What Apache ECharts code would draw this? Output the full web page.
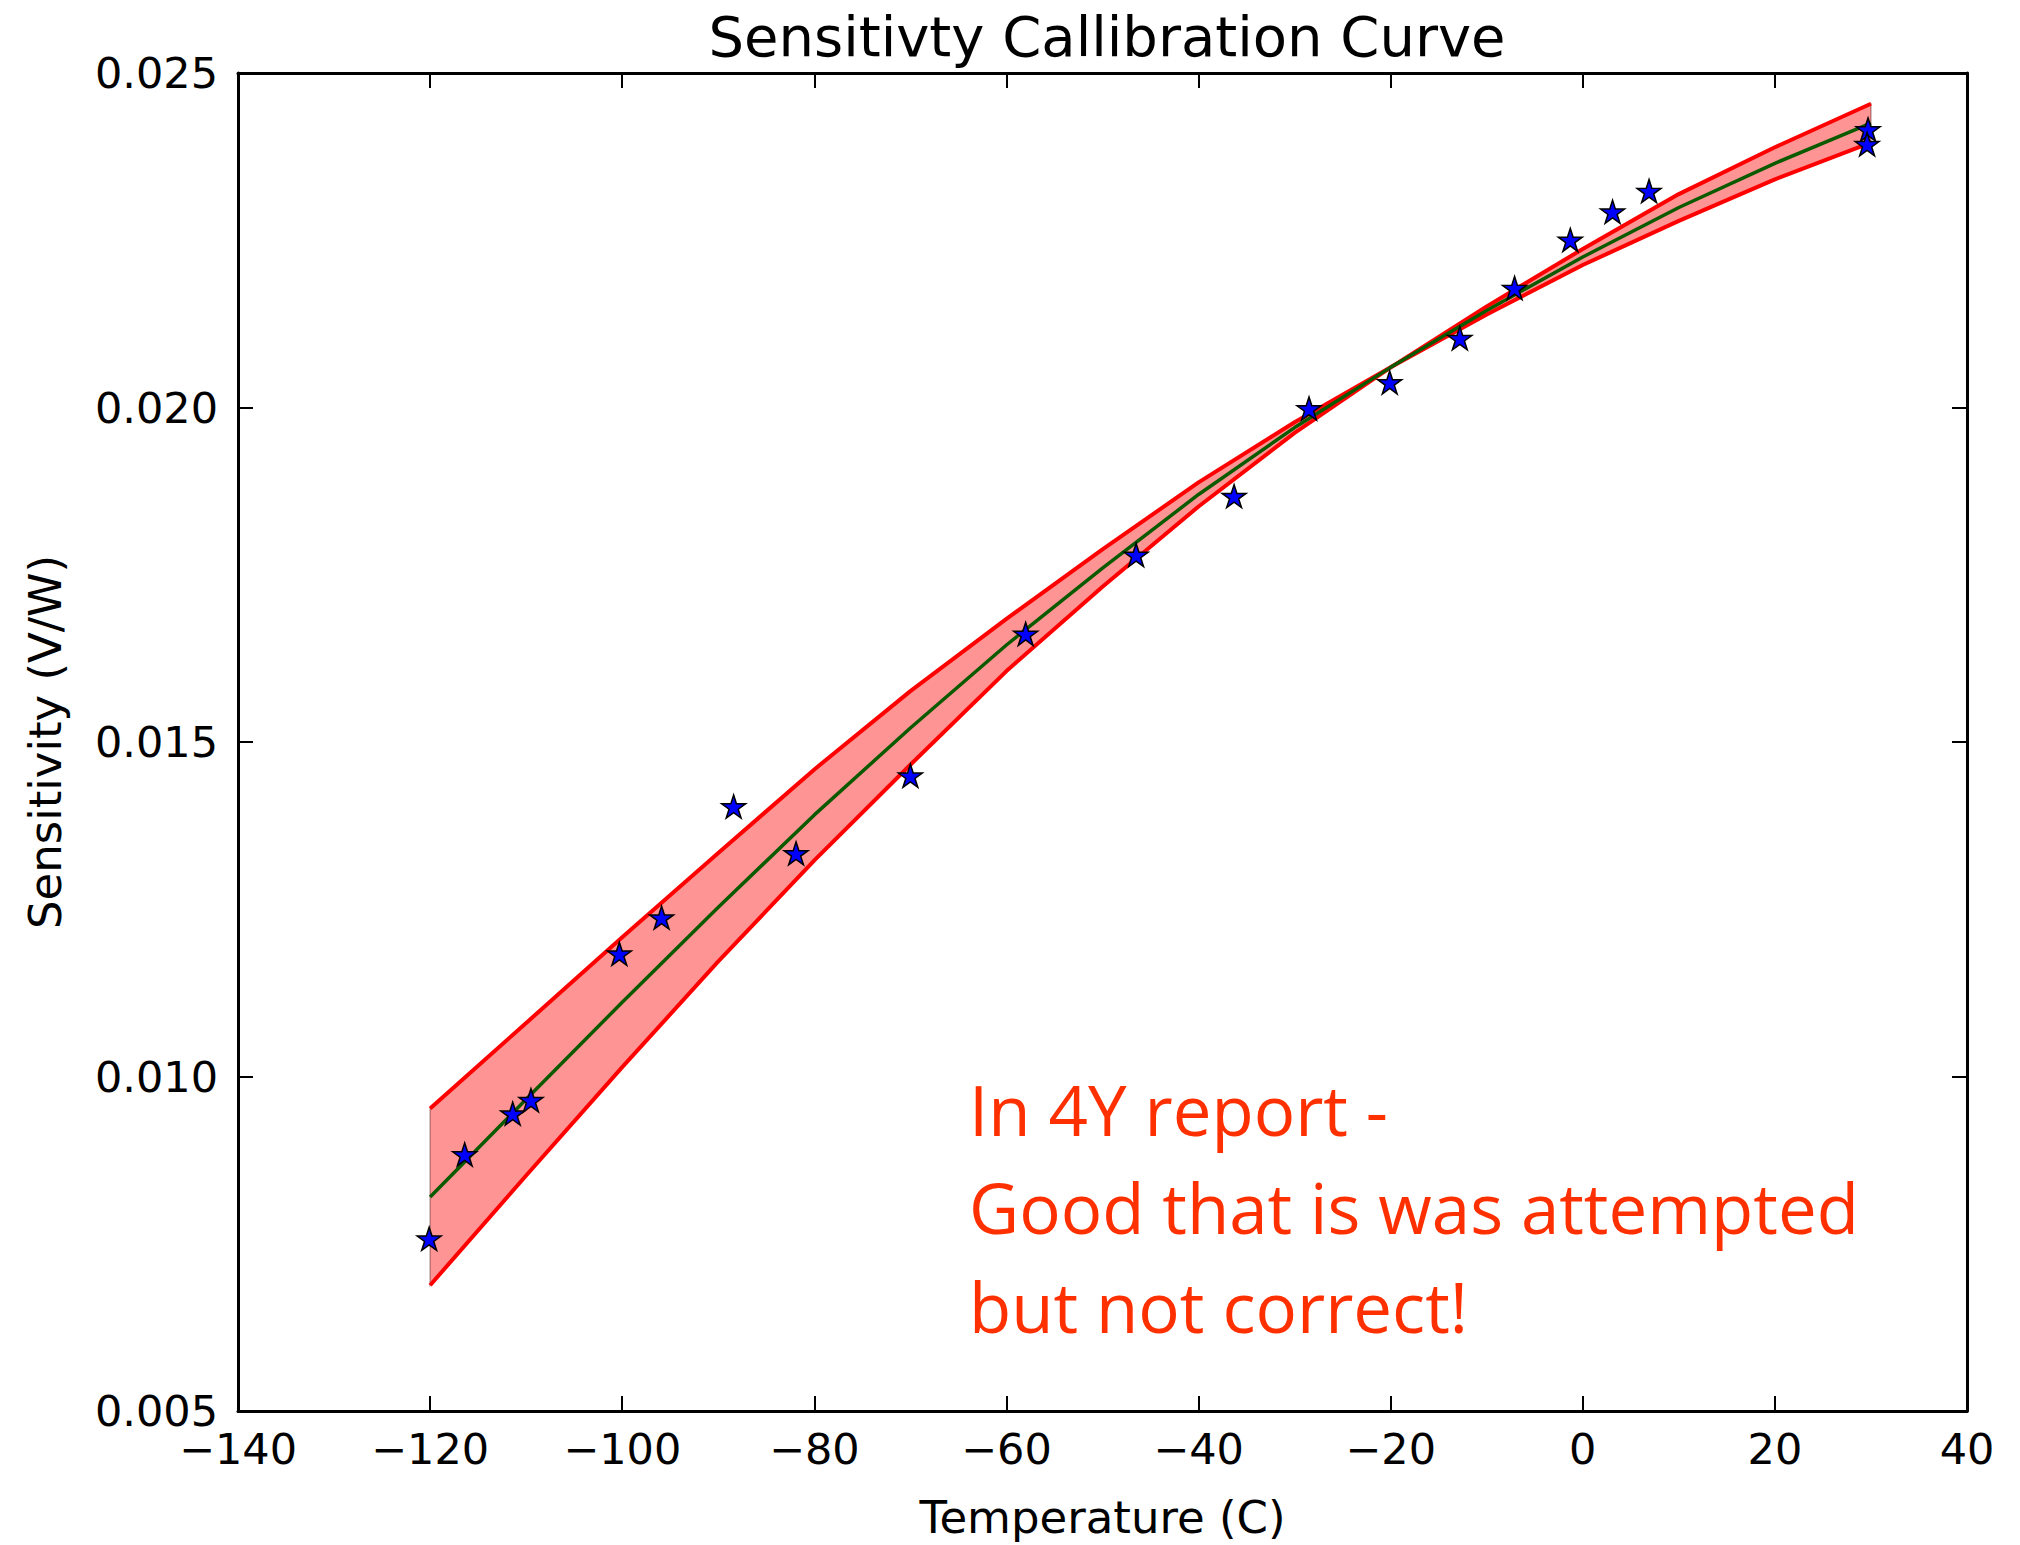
<!DOCTYPE html>
<html>
<head>
<meta charset="utf-8">
<script src="https://cdn.jsdelivr.net/npm/echarts@6/dist/echarts.min.js"></script>
<style>
html,body{margin:0;padding:0;background:#fff;}
#chart{width:2020px;height:1545px;}
</style>
</head>
<body>
<div id="chart"></div>
<script>
// ---- data ----
const fitTemps = [-120, -110, -100, -90, -80, -70, -60, -50, -40, -30, -20, -10, 0, 10, 20, 30];
const fitSens  = [0.00820, 0.00966, 0.01111, 0.01253, 0.01391, 0.01521, 0.01645, 0.01760, 0.01870, 0.01970, 0.02060, 0.02145, 0.02225, 0.02299, 0.02365, 0.02425];
const bandHigh = [0.00952, 0.01080, 0.01208, 0.01334, 0.01459, 0.01576, 0.01684, 0.01788, 0.01888, 0.01978, 0.02060, 0.02151, 0.02237, 0.02319, 0.02389, 0.02454];
const bandLow  = [0.00688, 0.00852, 0.01014, 0.01172, 0.01323, 0.01466, 0.01606, 0.01732, 0.01852, 0.01962, 0.02060, 0.02139, 0.02213, 0.02279, 0.02341, 0.02396];

const measTemps = [-120.1, -116.4, -111.4, -109.5, -100.3, -95.9, -88.4, -81.9, -70.0, -58.0, -46.5, -36.3, -28.5, -20.1, -12.8, -7.1, -1.3, 3.1, 6.9, 29.7, 29.6];
const measSens  = [0.00756, 0.00882, 0.00943, 0.00963, 0.01182, 0.01236, 0.01402, 0.01332, 0.01448, 0.01660, 0.01778, 0.01866, 0.01997, 0.02036, 0.02102, 0.02177, 0.02249, 0.02291, 0.02322, 0.02414, 0.02392];

const xTickLabels = ['\u2212140', '\u2212120', '\u2212100', '\u221280', '\u221260', '\u221240', '\u221220', '0', '20', '40'];
const yTickLabels = ['0.005', '0.010', '0.015', '0.020', '0.025'];

const titleText = 'Sensitivty Callibration Curve';
const xName = 'Temperature (C)';
const yName = 'Sensitivity (V/W)';
const noteLines = ['In 4Y report -', 'Good that is was attempted', 'but not correct!'];

// ---- build ----
const X_MIN = -140, X_MAX = 40, X_INT = 20;
const Y_MIN = 0.005, Y_MAX = 0.025, Y_INT = 0.005;
const pair = (xs, ys) => xs.map((x, i) => [x, ys[i]]);
const STAR = 'path://M50 0 L61.23 34.55 L97.55 34.55 L68.16 55.9 L79.39 90.45 L50 69.1 L20.61 90.45 L31.84 55.9 L2.45 34.55 L38.77 34.55 Z';
const FONT = 'DejaVu Sans';

const baseAxis = {
  axisLine: {show: true, onZero: false, lineStyle: {color: '#000', width: 3}},
  axisTick: {show: true, inside: true, length: 15, lineStyle: {color: '#000', width: 2}},
  splitLine: {show: false}
};

const chart = echarts.init(document.getElementById('chart'), null, {renderer: 'svg'});
chart.setOption({
  animation: false,
  backgroundColor: '#fff',
  title: {
    text: titleText, left: 1102, top: 3, textAlign: 'center',
    textStyle: {fontFamily: FONT, fontSize: 56, fontWeight: 'normal', color: '#000'}
  },
  grid: {left: 238, right: 53, top: 73, bottom: 134, containLabel: false},
  xAxis: [
    Object.assign({}, baseAxis, {
      type: 'value', position: 'bottom', min: X_MIN, max: X_MAX, interval: X_INT,
      name: xName, nameLocation: 'middle', nameGap: 84,
      nameTextStyle: {fontFamily: FONT, fontSize: 45, color: '#000'},
      axisLabel: {
        show: true, margin: 16, color: '#000', fontFamily: FONT, fontSize: 43,
        formatter: v => xTickLabels[Math.round((v - X_MIN) / X_INT)]
      }
    }),
    Object.assign({}, baseAxis, {
      type: 'value', position: 'top', min: X_MIN, max: X_MAX, interval: X_INT,
      axisLabel: {show: false}
    })
  ],
  yAxis: [
    Object.assign({}, baseAxis, {
      type: 'value', position: 'left', min: Y_MIN, max: Y_MAX, interval: Y_INT,
      name: yName, nameLocation: 'middle', nameGap: 170, nameRotate: 90,
      nameTextStyle: {fontFamily: FONT, fontSize: 45, color: '#000'},
      axisLabel: {
        show: true, margin: 20, color: '#000', fontFamily: FONT, fontSize: 43,
        formatter: v => yTickLabels[Math.round((v - Y_MIN) / Y_INT)]
      }
    }),
    Object.assign({}, baseAxis, {
      type: 'value', position: 'right', min: Y_MIN, max: Y_MAX, interval: Y_INT,
      axisLabel: {show: false}
    })
  ],
  series: [
    {
      type: 'custom', silent: true, z: 1,
      data: fitTemps.map((x, i) => [x, bandLow[i], bandHigh[i]]),
      encode: {x: 0, y: [1, 2]},
      renderItem: (params, api) => {
        if (params.dataIndex !== 0) return null;
        const pts = [];
        for (let i = 0; i < fitTemps.length; i++) pts.push(api.coord([fitTemps[i], bandHigh[i]]));
        for (let i = fitTemps.length - 1; i >= 0; i--) pts.push(api.coord([fitTemps[i], bandLow[i]]));
        return {
          type: 'polygon', shape: {points: pts},
          style: {fill: 'rgba(255,0,0,0.42)', stroke: 'rgba(60,0,0,0.35)', lineWidth: 1.5}
        };
      }
    },
    {
      type: 'line', data: pair(fitTemps, bandHigh), symbol: 'none',
      lineStyle: {color: '#ff0000', width: 4}, z: 2
    },
    {
      type: 'line', data: pair(fitTemps, bandLow), symbol: 'none',
      lineStyle: {color: '#ff0000', width: 4}, z: 2
    },
    {
      type: 'line', data: pair(fitTemps, fitSens), symbol: 'none',
      lineStyle: {color: '#0b5a00', width: 3.5}, z: 3
    },
    {
      type: 'scatter', data: pair(measTemps, measSens),
      symbol: STAR, symbolSize: [24, 23], symbolOffset: [0, -1],
      itemStyle: {color: '#0000ff', borderColor: '#000', borderWidth: 1.5, opacity: 1}, z: 4
    }
  ],
  graphic: noteLines.map((t, i) => ({
    type: 'text', left: 969, top: 1074 + i * 98.5, z: 10,
    style: {text: t, fill: '#ff3000', font: '69px "Comic Sans MS", "Open Sans", sans-serif'}
  }))
});
</script>
</body>
</html>
